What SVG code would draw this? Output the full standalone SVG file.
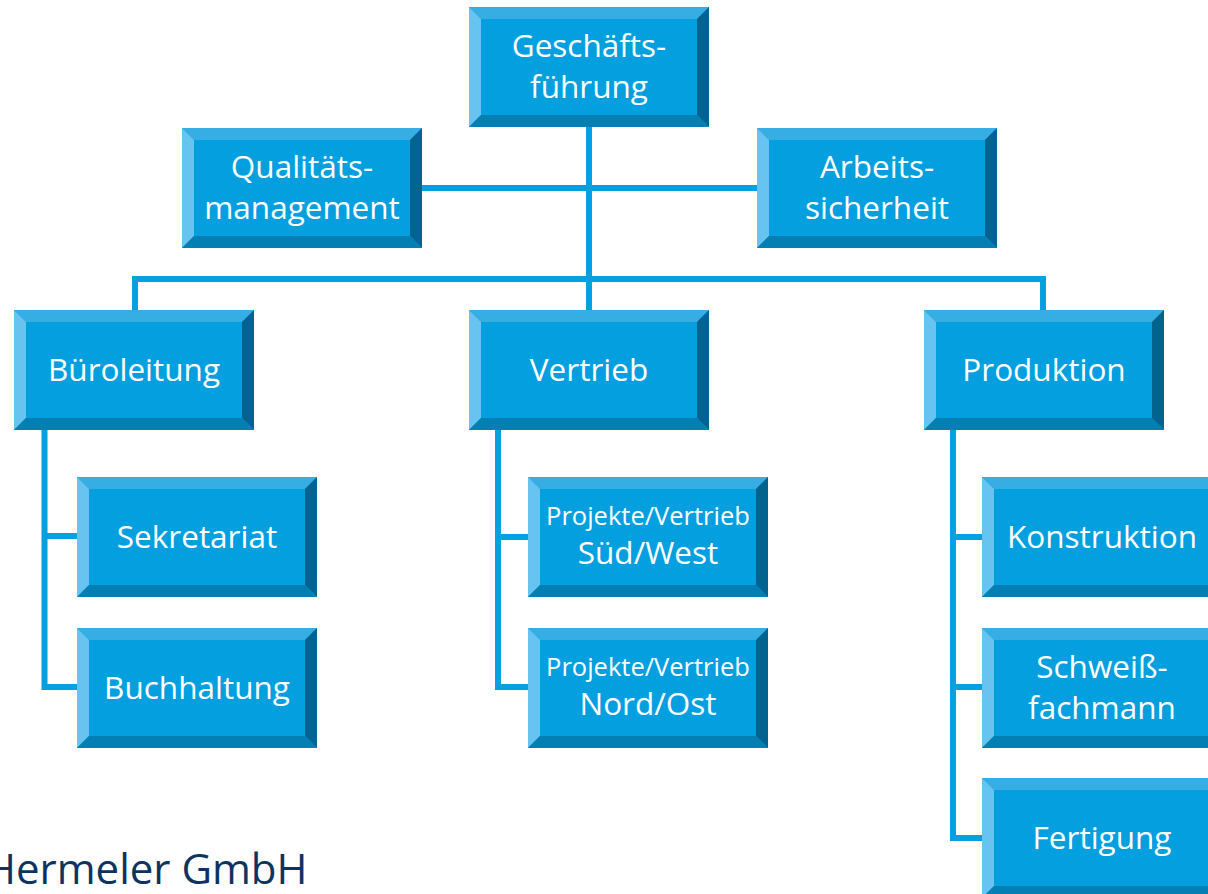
<svg xmlns="http://www.w3.org/2000/svg" xmlns:xlink="http://www.w3.org/1999/xlink" width="1208" height="894" viewBox="0 0 1208 894">
  <style>
    .lbl { font-family: "Open Sans", "Noto Sans", "Liberation Sans", sans-serif; fill: #ffffff; text-anchor: middle; font-size: 31.5px; }
    .small { font-size: 25.5px; }
    .conn { fill: none; stroke: #04a0df; stroke-width: 6; stroke-linejoin: miter; stroke-linecap: butt; }
    .brand { font-family: "Open Sans", "Noto Sans", "Liberation Sans", sans-serif; fill: #0d3461; font-size: 42px; }
  </style>
  <defs>
    <!-- bevelled box, 240 x 120 -->
    <g id="box">
      <rect x="0" y="0" width="240" height="120" fill="#049fdf"/>
      <polygon points="0,0 240,0 228,12 12,12" fill="#36aee4"/>
      <polygon points="0,0 12,12 12,108 0,120" fill="#67c3ef"/>
      <polygon points="240,0 240,120 228,108 228,12" fill="#02638f"/>
      <polygon points="0,120 12,108 228,108 240,120" fill="#047fb3"/>
    </g>
  </defs>

  <rect width="1208" height="894" fill="#ffffff"/>

  <g id="connectors">
    <path class="conn" d="M589 127 V310"/>
    <path class="conn" d="M422 188 H757"/>
    <path class="conn" d="M135 310 V279 H1043 V310"/>
    <path class="conn" d="M44.5 430 V687 H77 M44.5 536 H77"/>
    <path class="conn" d="M498 430 V687 H528 M498 537 H528"/>
    <path class="conn" d="M953 430 V838 H982 M953 537 H982 M953 687 H982"/>
  </g>

  <g id="geschaeftsfuehrung">
    <use xlink:href="#box" x="469" y="7"/>
    <text class="lbl" x="589" y="57">Geschäfts-</text>
    <text class="lbl" x="589" y="98">führung</text>
  </g>

  <g id="qualitaetsmanagement">
    <use xlink:href="#box" x="182" y="128"/>
    <text class="lbl" x="302" y="178">Qualitäts-</text>
    <text class="lbl" x="302" y="219">management</text>
  </g>

  <g id="arbeitssicherheit">
    <use xlink:href="#box" x="757" y="128"/>
    <text class="lbl" x="877" y="178">Arbeits-</text>
    <text class="lbl" x="877" y="219">sicherheit</text>
  </g>

  <g id="bueroleitung">
    <use xlink:href="#box" x="14" y="310"/>
    <text class="lbl" x="134" y="381">Büroleitung</text>
  </g>

  <g id="vertrieb">
    <use xlink:href="#box" x="469" y="310"/>
    <text class="lbl" x="589" y="381">Vertrieb</text>
  </g>

  <g id="produktion">
    <use xlink:href="#box" x="924" y="310"/>
    <text class="lbl" x="1044" y="381">Produktion</text>
  </g>

  <g id="sekretariat">
    <use xlink:href="#box" x="77" y="477"/>
    <text class="lbl" x="197" y="548">Sekretariat</text>
  </g>

  <g id="buchhaltung">
    <use xlink:href="#box" x="77" y="628"/>
    <text class="lbl" x="197" y="699">Buchhaltung</text>
  </g>

  <g id="vertrieb-sued-west">
    <use xlink:href="#box" x="528" y="477"/>
    <text class="lbl small" x="648" y="525">Projekte/Vertrieb</text>
    <text class="lbl" x="648" y="564">Süd/West</text>
  </g>

  <g id="vertrieb-nord-ost">
    <use xlink:href="#box" x="528" y="628"/>
    <text class="lbl small" x="648" y="676">Projekte/Vertrieb</text>
    <text class="lbl" x="648" y="715">Nord/Ost</text>
  </g>

  <g id="konstruktion">
    <use xlink:href="#box" x="982" y="477"/>
    <text class="lbl" x="1102" y="548">Konstruktion</text>
  </g>

  <g id="schweissfachmann">
    <use xlink:href="#box" x="982" y="628"/>
    <text class="lbl" x="1102" y="678">Schweiß-</text>
    <text class="lbl" x="1102" y="719">fachmann</text>
  </g>

  <g id="fertigung">
    <use xlink:href="#box" x="982" y="778"/>
    <text class="lbl" x="1102" y="849">Fertigung</text>
  </g>

  <text class="brand" x="-15" y="884">Hermeler GmbH</text>
</svg>
